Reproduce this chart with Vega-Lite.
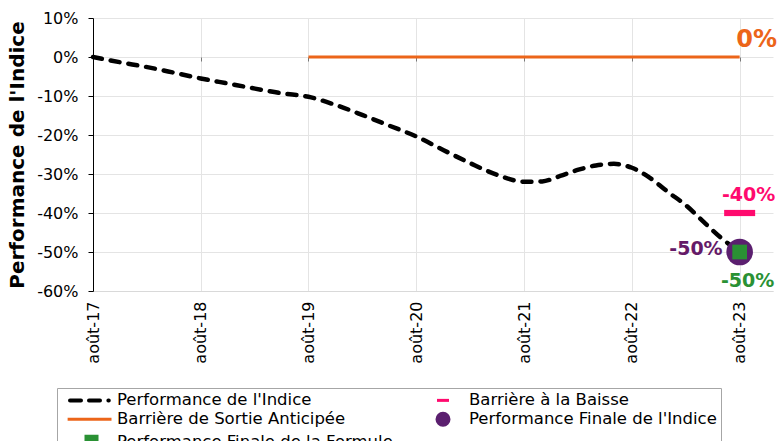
{
  "$schema": "https://vega.github.io/schema/vega-lite/v6.json",
  "width": 680,
  "height": 273,
  "autosize": "none",
  "padding": {"left": 93, "top": 18, "right": 6, "bottom": 150},
  "background": "white",
  "config": {
    "view": {"stroke": null},
    "font": "DejaVu Sans",
    "axis": {"labelFont": "DejaVu Sans", "titleFont": "DejaVu Sans", "labelColor": "#000", "titleColor": "#000"},
    "axisY": {"tickCount": 8, "labelOverlap": false}
  },
  "resolve": {"axis": {"x": "independent"}},
  "layer": [
    {
      "mark": {"type": "rule", "color": "#000", "strokeWidth": 1},
      "encoding": {"y": {"datum": 0, "type": "quantitative",
          "scale": {"domain": [-60, 10], "nice": false, "zero": false},
          "axis": {"values": [-60, -50, -40, -30, -20, -10, 0, 10], "tickCount": 8,
            "labelExpr": "datum.value + '%'", "labelFontSize": 16, "labelPadding": 10, "labelOverlap": false,
            "tickSize": 5, "tickColor": "#000", "domainColor": "#000", "grid": true, "gridColor": "#e4e4e4",
            "title": "Performance de l'Indice", "titleFontSize": 20, "titleFontWeight": "bold", "titlePadding": 9}}}
    },
    {
      "data": {"values": [
        {"date": "2019-08-01", "value": 0, "serie": "Barrière de Sortie Anticipée"},
        {"date": "2023-08-01", "value": 0, "serie": "Barrière de Sortie Anticipée"}
      ]},
      "mark": {"type": "line", "strokeWidth": 3},
      "encoding": {
        "x": {"field": "date", "type": "temporal",
          "axis": {"orient": "top", "offset": -43, "values": [
            {"year": 2017, "month": 8, "date": 1, "utc": true},
            {"year": 2018, "month": 8, "date": 1, "utc": true},
            {"year": 2019, "month": 8, "date": 1, "utc": true},
            {"year": 2020, "month": 8, "date": 1, "utc": true},
            {"year": 2021, "month": 8, "date": 1, "utc": true},
            {"year": 2022, "month": 8, "date": 1, "utc": true},
            {"year": 2023, "month": 8, "date": 1, "utc": true}],
            "labels": false, "grid": false, "domain": false, "ticks": true, "tickSize": 4, "tickColor": "#777", "title": null}},
        "y": {"field": "value", "type": "quantitative"},
        "color": {"field": "serie", "type": "nominal"}
      }
    },
    {
      "data": {"values": [
        {"date": "2017-08-01", "value": 0, "serie": "Performance de l'Indice"},
        {"date": "2017-11-01", "value": -1.35, "serie": "Performance de l'Indice"},
        {"date": "2018-02-01", "value": -2.6, "serie": "Performance de l'Indice"},
        {"date": "2018-05-01", "value": -4.0, "serie": "Performance de l'Indice"},
        {"date": "2018-08-01", "value": -5.5, "serie": "Performance de l'Indice"},
        {"date": "2018-11-01", "value": -6.8, "serie": "Performance de l'Indice"},
        {"date": "2019-02-01", "value": -8.1, "serie": "Performance de l'Indice"},
        {"date": "2019-05-01", "value": -9.3, "serie": "Performance de l'Indice"},
        {"date": "2019-08-01", "value": -10.2, "serie": "Performance de l'Indice"},
        {"date": "2019-11-01", "value": -12.3, "serie": "Performance de l'Indice"},
        {"date": "2020-02-01", "value": -14.9, "serie": "Performance de l'Indice"},
        {"date": "2020-05-01", "value": -17.6, "serie": "Performance de l'Indice"},
        {"date": "2020-08-01", "value": -20.4, "serie": "Performance de l'Indice"},
        {"date": "2020-11-01", "value": -23.9, "serie": "Performance de l'Indice"},
        {"date": "2021-02-01", "value": -27.3, "serie": "Performance de l'Indice"},
        {"date": "2021-05-01", "value": -30.2, "serie": "Performance de l'Indice"},
        {"date": "2021-08-01", "value": -32.0, "serie": "Performance de l'Indice"},
        {"date": "2021-10-01", "value": -31.9, "serie": "Performance de l'Indice"},
        {"date": "2021-12-01", "value": -30.5, "serie": "Performance de l'Indice"},
        {"date": "2022-02-01", "value": -28.9, "serie": "Performance de l'Indice"},
        {"date": "2022-04-01", "value": -27.8, "serie": "Performance de l'Indice"},
        {"date": "2022-06-01", "value": -27.4, "serie": "Performance de l'Indice"},
        {"date": "2022-08-01", "value": -28.4, "serie": "Performance de l'Indice"},
        {"date": "2022-10-01", "value": -31.0, "serie": "Performance de l'Indice"},
        {"date": "2022-12-01", "value": -34.6, "serie": "Performance de l'Indice"},
        {"date": "2023-02-01", "value": -38.1, "serie": "Performance de l'Indice"},
        {"date": "2023-04-01", "value": -42.3, "serie": "Performance de l'Indice"},
        {"date": "2023-06-01", "value": -46.5, "serie": "Performance de l'Indice"},
        {"date": "2023-08-01", "value": -50.0, "serie": "Performance de l'Indice"}
      ]},
      "mark": {"type": "line", "strokeDash": [9, 9], "strokeWidth": 4.5, "strokeCap": "round", "interpolate": "monotone"},
      "encoding": {
        "x": {"field": "date", "type": "temporal",
          "scale": {"type": "utc", "domain": [{"year": 2017, "month": 8, "date": 1, "utc": true}, {"year": 2023, "month": 11, "date": 22, "utc": true}]},
          "axis": {"orient": "bottom", "values": [
            {"year": 2017, "month": 8, "date": 1, "utc": true},
            {"year": 2018, "month": 8, "date": 1, "utc": true},
            {"year": 2019, "month": 8, "date": 1, "utc": true},
            {"year": 2020, "month": 8, "date": 1, "utc": true},
            {"year": 2021, "month": 8, "date": 1, "utc": true},
            {"year": 2022, "month": 8, "date": 1, "utc": true},
            {"year": 2023, "month": 8, "date": 1, "utc": true}],
            "labelExpr": "'août-' + utcFormat(datum.value, '%y')",
            "labelAngle": -90, "labelFontSize": 16, "labelPadding": 10, "ticks": false, "tickSize": 0, "labelOverlap": false,
            "domain": true, "domainColor": "#d9d9d9", "grid": true, "gridColor": "#e4e4e4", "title": null}},
        "y": {"field": "value", "type": "quantitative"},
        "color": {"field": "serie", "type": "nominal",
          "scale": {"domain": ["Performance de l'Indice", "Barrière de Sortie Anticipée", "Performance Finale de la Formule", "Barrière à la Baisse", "Performance Finale de l'Indice"],
            "range": ["#000000", "#EC6519", "#2A9134", "#FF0A6E", "#5B1F6F"]},
          "legend": {
            "orient": "none", "legendX": -36, "legendY": 370, "columns": 2, "title": null,
            "padding": 4, "strokeColor": "#a6a6a6", "fillColor": "white",
            "labelFont": "DejaVu Sans", "labelFontSize": 16.5, "labelColor": "#000", "labelLimit": 400,
            "symbolSize": 2025, "symbolOffset": 19.75, "labelOffset": 19.75, "rowPadding": -2, "columnPadding": 20,
            "encode": {"symbols": {"update": {
              "shape": {"signal": "datum.index == 0 ? 'M-0.844,0H-0.356M0,0H0.489M0.86,0H0.88' : datum.index == 1 ? 'M-0.95,0H1' : datum.index == 2 ? 'M-0.133,-0.267H0.356V0.267H-0.133Z' : datum.index == 3 ? 'M-0.178,0H0.356' : 'M-0.178,0A0.267,0.267 0 1,0 0.356,0A0.267,0.267 0 1,0 -0.178,0Z'"},
              "size": {"value": 2025},
              "stroke": {"signal": "datum.index == 0 ? '#000000' : datum.index == 1 ? '#EC6519' : datum.index == 3 ? '#FF0A6E' : 'transparent'"},
              "strokeWidth": {"signal": "datum.index == 0 ? 4 : 3"},
              "strokeCap": {"signal": "datum.index == 0 ? 'round' : 'butt'"},
              "fill": {"signal": "datum.index == 2 ? '#2A9134' : datum.index == 4 ? '#5B1F6F' : 'transparent'"},
              "strokeDash": {"value": []},
              "opacity": {"value": 1}
            }}}
          }}
      }
    },
    {
      "data": {"values": [{"date": "2023-08-01", "value": -40, "serie": "Barrière à la Baisse"}]},
      "mark": {"type": "point", "filled": true, "opacity": 1, "shape": "M-1,-0.2H1V0.2H-1Z", "size": 961},
      "encoding": {
        "x": {"field": "date", "type": "temporal", "axis": null},
        "y": {"field": "value", "type": "quantitative"},
        "color": {"field": "serie", "type": "nominal"}
      }
    },
    {
      "data": {"values": [{"date": "2023-08-01", "value": -50, "serie": "Performance Finale de l'Indice"}]},
      "mark": {"type": "point", "filled": true, "opacity": 1, "shape": "circle", "size": 707},
      "encoding": {
        "x": {"field": "date", "type": "temporal", "axis": null},
        "y": {"field": "value", "type": "quantitative"},
        "color": {"field": "serie", "type": "nominal"}
      }
    },
    {
      "data": {"values": [{"date": "2023-08-01", "value": -50, "serie": "Performance Finale de la Formule"}]},
      "mark": {"type": "point", "filled": true, "opacity": 1, "shape": "square", "size": 216},
      "encoding": {
        "x": {"field": "date", "type": "temporal", "axis": null},
        "y": {"field": "value", "type": "quantitative"},
        "color": {"field": "serie", "type": "nominal"}
      }
    },
    {
      "data": {"values": [{"date": "2023-08-01", "value": 0, "label": "0%"}]},
      "mark": {"type": "text", "fontSize": 24, "fontWeight": "bold", "color": "#EC6519", "dx": 17, "dy": -17, "align": "center", "baseline": "middle"},
      "encoding": {
        "x": {"field": "date", "type": "temporal", "axis": null},
        "y": {"field": "value", "type": "quantitative"},
        "text": {"field": "label"}
      }
    },
    {
      "data": {"values": [{"date": "2023-08-01", "value": -40, "label": "-40%"}]},
      "mark": {"type": "text", "fontSize": 19, "fontWeight": "bold", "color": "#FF0A6E", "dx": 9, "dy": -18, "align": "center", "baseline": "middle"},
      "encoding": {
        "x": {"field": "date", "type": "temporal", "axis": null},
        "y": {"field": "value", "type": "quantitative"},
        "text": {"field": "label"}
      }
    },
    {
      "data": {"values": [{"date": "2023-08-01", "value": -50, "label": "-50%"}]},
      "mark": {"type": "text", "fontSize": 19, "fontWeight": "bold", "color": "#651A68", "dx": -17, "dy": -3, "align": "right", "baseline": "middle"},
      "encoding": {
        "x": {"field": "date", "type": "temporal", "axis": null},
        "y": {"field": "value", "type": "quantitative"},
        "text": {"field": "label"}
      }
    },
    {
      "data": {"values": [{"date": "2023-08-01", "value": -50, "label": "-50%"}]},
      "mark": {"type": "text", "fontSize": 19, "fontWeight": "bold", "color": "#2A9134", "dx": 8, "dy": 29, "align": "center", "baseline": "middle"},
      "encoding": {
        "x": {"field": "date", "type": "temporal", "axis": null},
        "y": {"field": "value", "type": "quantitative"},
        "text": {"field": "label"}
      }
    }
  ]
}
